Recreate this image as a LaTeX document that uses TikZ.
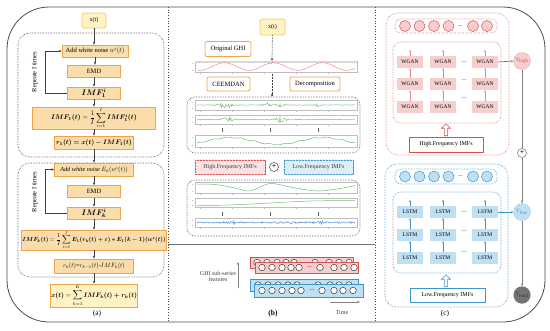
\documentclass[tikz,border=0pt]{standalone}
\usepackage{fontspec}
\setmainfont{Liberation Serif}
\usepackage{amsmath,bm}
\usetikzlibrary{arrows.meta,patterns,shapes.arrows}
\newcommand{\myfs}[1]{\fontsize{#1}{#1}\selectfont}
\newcommand{\fm}[2]{\scalebox{#1}{\normalsize$\displaystyle #2$}}
\newcommand{\lz}[2]{(1/(1+((\x-#1)/#2)*((\x-#1)/#2)))}
\definecolor{orfill}{RGB}{251,221,172}
\definecolor{orbd}{RGB}{240,164,70}
\definecolor{yefill}{RGB}{255,243,196}
\definecolor{yebd}{RGB}{233,200,110}
\definecolor{redbd}{RGB}{215,80,80}
\definecolor{pinkf}{RGB}{247,206,206}
\definecolor{bluebd}{RGB}{60,150,205}
\definecolor{bluef}{RGB}{190,224,242}
\definecolor{wgreen}{RGB}{105,190,115}
\definecolor{wpink}{RGB}{236,135,145}
\definecolor{wblue}{RGB}{70,140,210}
\definecolor{framec}{RGB}{190,190,190}
\begin{document}
\begin{tikzpicture}[x=1pt,y=-1pt,
  arr/.style={-{Stealth[length=3pt,width=2.4pt]}, draw=black!75, line width=0.5pt},
  obox/.style={draw=orbd, fill=orfill, line width=0.6pt, inner sep=0.5pt, font=\myfs{6.5}},
  ybox/.style={draw=yebd, fill=yefill, line width=0.6pt, inner sep=0.5pt, font=\myfs{6}, rounded corners=1.5pt},
  lbox/.style={draw=orbd, fill=white, line width=0.8pt, rounded corners=2pt, inner sep=0.5pt, font=\myfs{6.5}},
  dbox/.style={draw=black!70, densely dotted, line width=0.6pt, rounded corners=12pt},
  frm/.style={draw=framec, line width=0.4pt},
  wgan/.style={fill=pinkf, minimum width=26pt, minimum height=12pt, inner sep=0pt, font=\myfs{5.5}},
  lstm/.style={fill=bluef, minimum width=26pt, minimum height=12pt, inner sep=0pt, font=\myfs{5.5}},
  parr/.style={-{Stealth[length=2.2pt,width=2pt]}, draw=wpink, line width=0.5pt},
  barr/.style={-{Stealth[length=2.2pt,width=2pt]}, draw=wblue, line width=0.5pt},
  pc/.style={circle, draw=redbd, fill=pinkf, line width=0.5pt, minimum size=11pt, inner sep=0pt},
  bc/.style={circle, draw=bluebd, fill=bluef, line width=0.5pt, minimum size=11pt, inner sep=0pt},
  wc/.style={circle, draw=black!80, fill=white, line width=0.5pt, minimum size=6.5pt, inner sep=0pt},
  opl/.style={circle, draw=black!75, fill=white, line width=0.5pt, minimum size=9pt, inner sep=0pt, font=\myfs{7}\bfseries}
]
\useasboundingbox (0,0) rectangle (550,330);
% outer frame
\draw[black!70, line width=0.8pt, rounded corners=42pt] (7,7) rectangle (545,322);
\draw[black!70, dotted, line width=0.7pt] (168,7) -- (168,322);
\draw[black!70, dotted, line width=0.7pt] (375,7) -- (375,322);
\draw[black!55, line width=0.9pt] (168,244) -- (375,244);

% ================= panel (a)
\draw[dbox] (18,33) rectangle (164,157);
\draw[dbox] (18,163) rectangle (164,277);
\node[ybox, minimum width=24pt, minimum height=15pt] (xa) at (94,20.5) {x(t)};
\node[obox, minimum width=66pt, minimum height=12pt] (aw1) at (95,51) {\scalebox{0.65}{\normalsize Add white noise $w^i(t)$}};
\node[obox, minimum width=53pt, minimum height=12pt] (emd1) at (94,71) {EMD};
\node[obox, minimum width=53pt, minimum height=12pt] (imf1) at (94,93) {\fm{0.8}{\bm{IMF_1^i}}};
\node[obox, minimum width=123pt, minimum height=20pt] (f1) at (94,118) {\fm{0.68}{\bm{IMF_1(t)}=\frac{1}{I}\sum_{i=1}^{I}\bm{IMF_1^i(t)}}};
\node[obox, minimum width=79pt, minimum height=13pt] (r1) at (94,142.5) {\fm{0.66}{\bm{r_1(t)=x(t)-IMF_1(t)}}};
\node[obox, minimum width=79pt, minimum height=13pt] (aw2) at (94,169.5) {\scalebox{0.62}{\normalsize\itshape Add white noise $E_k(w^i(t))$}};
\node[obox, minimum width=53pt, minimum height=12pt] (emd2) at (94,191.5) {EMD};
\node[obox, minimum width=53pt, minimum height=12pt] (imfk) at (94,213) {\fm{0.8}{\bm{IMF_k^i}}};
\node[obox, minimum width=134pt, minimum height=20pt] (fk) at (94,240) {\fm{0.6}{\bm{IMF_k(t)}=\frac{1}{I}\sum_{i=1}^{I}\bm{E_1(r_k(t)+\varepsilon)*E_1(k-1)(w^i(t))}}};
\node[obox, minimum width=79pt, minimum height=14pt] (rk) at (94,266) {\scalebox{0.62}{\normalsize $r_k(t)$=$r_{k-1}(t)$-$IMF_k(t)$}};
\node[ybox, rounded corners=0pt, draw=orbd, minimum width=84pt, minimum height=23pt] (fin) at (94,295.5) {\fm{0.66}{\bm{x(t)}=\sum_{k=1}^{K}\bm{IMF_k(t)+r_k(t)}}};
\node[font=\myfs{7.5}] (la) at (97,314) {(a)};
\node[rotate=90, font=\myfs{6.5}] (rep1) at (35,72) {Repeate I times};
\node[rotate=90, font=\myfs{6.5}] (rep2) at (35,192) {Repeate I times};
\foreach \a/\b in {xa/aw1,aw1/emd1,emd1/imf1,imf1/f1,f1/r1,r1/aw2,aw2/emd2,emd2/imfk,imfk/fk,fk/rk,rk/fin}
  \draw[arr] (\a.south) -- (\a.south |- \b.north);
\draw[arr] (imf1.west) -- ++(-22,0) |- (aw1.west);
\draw[arr] (imfk.west) -- ++(-22,0) |- (aw2.west);

% ================= panel (b)
\node[ybox, minimum width=25pt, minimum height=16pt] (xb) at (272.5,27) {x(t)};
\node[lbox, minimum width=46pt, minimum height=15pt] (og) at (228,49) {Original GHI};
\node[lbox, minimum width=43pt, minimum height=14pt] (ce) at (228.5,84) {CEEMDAN};
\node[lbox, minimum width=50pt, minimum height=14pt] (de) at (315,84) {Decomposition};
\coordinate (p1t) at (272,61);
\coordinate (p1b) at (272,72);
\node[dbox, minimum width=173pt, minimum height=56pt, rounded corners=8pt] (d1) at (273.5,125) {};
\node[dbox, minimum width=173pt, minimum height=56pt, rounded corners=8pt] (d2) at (273.5,208) {};
\draw[arr, densely dotted, line width=0.8pt] (xb.south) -- (p1t);
\draw[arr, densely dotted, line width=0.8pt] (p1b) -- (p1b |- d1.north);

% plot frames
\foreach \ya/\yb in {61/72,100/110,115/124,135/147,182/193,198/207,218/227}{
  \draw[frm] (195,\ya) rectangle (357,\yb);
  \foreach \t in {0,1,2,3,4} \draw[frm] ({200+\t*32},\yb) -- ++(0,1.8);
  \draw[frm] (193,{\ya+2}) -- ++(-1.5,0);
  \draw[frm] (193,{\yb-2}) -- ++(-1.5,0);
}
\fill[framec!60] (195,61) rectangle (357,62.5);
\pgfmathsetseed{17}
% plot1 original (pink)
\draw[wpink, line width=0.5pt] plot[domain=197:355, samples=160, variable=\x] (\x,{66.5+3.8*cos((\x-200)*7.347)+0.8*rand*\lz{272}{5.5}});
% plot2
\draw[wgreen, line width=0.4pt] plot[domain=197:355, samples=220, variable=\x] (\x,{105+0.35*rand+3.5*rand*\lz{223}{3.2}+2.5*rand*\lz{229}{2.8}+2*rand*\lz{267}{3.5}+2.2*rand*\lz{280}{3.9}+1.5*rand*\lz{317}{2.5}});
% plot3
\draw[wgreen, line width=0.4pt] plot[domain=197:355, samples=220, variable=\x] (\x,{119.5+0.4*rand+3*rand*\lz{223}{3.2}+2*rand*\lz{231}{2.8}+3.5*rand*\lz{281}{3.2}+1.2*rand*\lz{323}{2.8}});
% plot4
\draw[wgreen, line width=0.5pt] plot[domain=197:355, samples=120, variable=\x] (\x,{141-3.5*cos((\x-230)*3.871)+0.5*sin(\x*25)});
% separators
\foreach \xx in {222,270,318} {\draw[black!60, line width=0.5pt] (\xx,128) -- (\xx,132); \draw[black!60, line width=0.5pt] (\xx,212) -- (\xx,216);}
% plot5
\draw[wgreen, line width=0.5pt] plot[smooth] coordinates {(197,184) (215,184.5) (235,188) (250,191) (270,183.5) (290,187) (317,191) (340,188.5) (355,185.5)};
% plot6
\draw[wgreen, line width=0.5pt] plot[smooth] coordinates {(197,205.5) (230,205) (270,203) (310,201) (355,200.5)};
% plot7
\draw[wblue, line width=0.4pt] plot[domain=197:355, samples=240, variable=\x] (\x,{222.5+0.9*rand+2.5*rand*\lz{233}{2.5}+2.5*rand*\lz{320}{2.8}+1.5*rand*\lz{290}{2}});

% High / Low frequency
\node[draw=redbd, line width=0.6pt, fill=pinkf!40, minimum width=70pt, minimum height=14pt, inner sep=0pt] (hf) at (230,167) {};
\fill[pattern=north east lines, pattern color=redbd!25] (hf.south west) rectangle (hf.north east);
\node[font=\myfs{6}, text=black!75] (hft) at (hf) {High.Frequency IMFs};
\node[opl] (op1) at (274,167) {+};
\node[draw=bluebd, line width=0.6pt, fill=bluef!40, minimum width=69pt, minimum height=14pt, inner sep=0pt] (lf) at (318.5,167) {};
\fill[pattern=north east lines, pattern color=bluebd!25] (lf.south west) rectangle (lf.north east);
\node[font=\myfs{6}, text=black!75] (lft) at (lf) {Low.Frequency IMFs};

% bottom of (b)
\node[align=center, font=\myfs{6}, text=black!75] (gss) at (218,276) {GHI sub-series\\features};
\coordinate (ua0) at (238,288);
\coordinate (ua1) at (238,262);
\draw[arr, draw=black!50] (ua0) -- (ua1);
% red layers
\draw[redbd, fill=pinkf, line width=0.5pt] (250,257) rectangle (353,268);
\foreach \xx in {257,267,277,286,294,315,329,339,349} \node[wc] at (\xx,262.5) {};
\draw[redbd, fill=pinkf, line width=0.5pt] (255,262) rectangle (358,273);
\foreach \xx in {262,272,282,291,299,320,334,344,354} \node[wc] at (\xx,267.5) {};
\node[font=\myfs{6}] (rd) at (309.5,267.5) {...};
% blue layers
\draw[bluebd, fill=bluef, line width=0.5pt] (250,279) rectangle (358,291);
\foreach \xx in {258,268,278,288,297,318,330,339,349} \node[wc] at (\xx,285) {};
\draw[bluebd, fill=bluef, line width=0.5pt] (254,284) rectangle (363,297);
\foreach \xx in {262,272,282,292,301,322,334,343,353} \node[wc] at (\xx,290.5) {};
\node[font=\myfs{6}] (bd) at (312,290.5) {...};
\coordinate (ta0) at (330,302);
\coordinate (ta1) at (360,302);
\draw[arr, draw=black!50] (ta0) -- (ta1);
\node[font=\myfs{6}, text=black!75] (tm) at (342,313) {Time};
\node[font=\myfs{7.5}\bfseries] (lb) at (273,314) {(b)};

% ================= panel (c)
% high
\draw[redbd!80, densely dotted, line width=0.6pt, rounded corners=12pt] (386,13) rectangle (509,155);
\draw[redbd!80, densely dotted, line width=0.6pt, rounded corners=6pt] (395,19) rectangle (497,33);
\foreach \xx in {405,419.5,434,448.5,473,487} \node[pc] at (\xx,26) {};
\node[font=\myfs{6}] (hd) at (460.5,26) {...};
\draw[redbd!80, densely dotted, line width=0.6pt, rounded corners=8pt] (393,42) rectangle (501,123);
\foreach \c/\xx in {1/410,2/443,3/485}
  \foreach \r/\yy in {1/62,2/84,3/107}
    \node[wgan] (w\r\c) at (\xx,\yy) {WGAN};
\foreach \c in {1,2,3}{
  \draw[parr] (w3\c.north) -- (w2\c.south);
  \draw[parr] (w2\c.north) -- (w1\c.south);
  \draw[parr] (w1\c.north) -- ++(0,-6);
}
\node[font=\myfs{6}] (wd1) at (464,62) {...};
\node[font=\myfs{6}] (wd2) at (464,80) {...};
\node[font=\myfs{6}] (wd3) at (464,98) {...};
\node[draw=redbd, line width=0.6pt, fill=white, minimum width=74pt, minimum height=15pt, inner sep=0pt, font=\myfs{6}] (hf2) at (446,144.5) {High.Frequency IMFs};
\node[single arrow, draw=redbd, fill=white, line width=0.6pt, shape border rotate=90, minimum height=12pt, minimum width=9pt, single arrow head extend=1.5pt, inner sep=0.5pt] (ha) at (446,130.5) {};
\node[circle, draw=redbd, densely dotted, fill=pinkf, minimum size=17pt, inner sep=0pt, font=\myfs{5}, text=redbd] (yh) at (522,61) {Y$_{\text{high}}$};
\draw[parr, draw=redbd, line width=0.7pt] (w13.east) -- (yh.west);
% low
\draw[bluebd, densely dotted, line width=0.6pt, rounded corners=12pt] (385,164) rectangle (508,307);
\draw[bluebd, densely dotted, line width=0.6pt, rounded corners=6pt] (395,169) rectangle (497,184);
\foreach \xx in {405,419.5,434,448.5,473,487} \node[bc] at (\xx,176.5) {};
\node[font=\myfs{6}] (ld) at (460.5,176.5) {...};
\draw[bluebd, densely dotted, line width=0.6pt, rounded corners=8pt] (393,192) rectangle (501,273);
\foreach \c/\xx in {1/410,2/443,3/485}
  \foreach \r/\yy in {1/212,2/235,3/258}
    \node[lstm] (l\r\c) at (\xx,\yy) {LSTM};
\foreach \c in {1,2,3}{
  \draw[barr] (l3\c.north) -- (l2\c.south);
  \draw[barr] (l2\c.north) -- (l1\c.south);
  \draw[barr] (l1\c.north) -- ++(0,-6);
}
\node[font=\myfs{6}] (ld1) at (464,212) {...};
\node[font=\myfs{6}] (ld2) at (464,231) {...};
\node[font=\myfs{6}] (ld3) at (464,252) {...};
\node[draw=bluebd, line width=0.6pt, fill=white, minimum width=75pt, minimum height=14pt, inner sep=0pt, font=\myfs{6}] (lf2) at (447.5,295) {Low.Frequency IMFs};
\node[single arrow, draw=bluebd, fill=white, line width=0.6pt, shape border rotate=90, minimum height=12pt, minimum width=9pt, single arrow head extend=1.5pt, inner sep=0.5pt] (la2) at (446,281.5) {};
\node[circle, draw=bluebd, densely dotted, fill=bluef, minimum size=17pt, inner sep=0pt, font=\myfs{5}, text=bluebd] (yl) at (522,212) {Y$_{\text{low}}$};
\draw[barr, draw=bluebd, line width=0.7pt] (l13.east) -- (yl.west);
\node[circle, draw=black!60, densely dotted, fill=black!55, minimum size=17pt, inner sep=0pt, font=\myfs{5}, text=black!80] (yt) at (522,295) {Y$_{\text{total}}$};
\node[opl, draw=black!55] (op2) at (522,153) {+};
\draw[black!50, line width=0.7pt] (yh.south) -- (op2.north);
\draw[arr, draw=black!50, line width=0.7pt] (op2.south) -- (yl.north);
\draw[arr, draw=black!50, line width=0.7pt] (yl.south) -- (yt.north);
\node[font=\myfs{7.5}] (lc) at (445,314) {(c)};
\end{tikzpicture}
\end{document}
